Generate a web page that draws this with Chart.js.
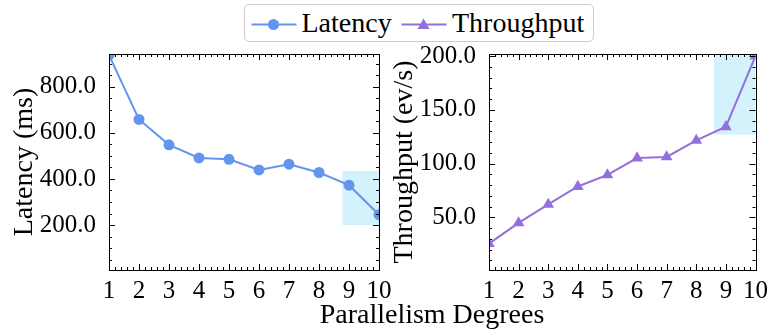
<!DOCTYPE html>
<html><head><meta charset="utf-8">
<script src="https://cdn.jsdelivr.net/npm/chart.js@4.4.1/dist/chart.umd.min.js"></script>
<style>
html,body{margin:0;padding:0;background:#fff;}
#wrap{position:relative;width:769px;height:331px;overflow:hidden;font-family:'Liberation Serif','Times New Roman',serif;color:#000;}
canvas{position:absolute;left:0;top:0;}
#legend{position:absolute;left:244px;top:4px;width:350px;height:38px;border:1.5px solid #cccccc;border-radius:5px;box-sizing:border-box;background:#fff;}
#legend span{position:absolute;top:4px;font-size:28px;line-height:28px;white-space:nowrap;}
#xtitle{position:absolute;left:232px;width:400px;top:300px;text-align:center;font-size:28px;line-height:28px;white-space:nowrap;}
</style></head>
<body><div id="wrap">
<canvas id="c1" width="769" height="331"></canvas>
<canvas id="c2" width="769" height="331"></canvas>
<div id="legend">
<svg style="position:absolute;left:0;top:0" width="347" height="35">
<line x1="6.5" y1="19.5" x2="51.5" y2="19.5" stroke="#6495ED" stroke-width="2"/>
<circle cx="28.5" cy="19.5" r="5.5" fill="#6495ED"/>
<line x1="156.5" y1="19.5" x2="201.5" y2="19.5" stroke="#9370DB" stroke-width="2"/>
<polygon points="178.5,13.5 172.5,24 184.5,24" fill="#9370DB"/>
</svg>
<span style="left:56.5px">Latency</span>
<span style="left:207px">Throughput</span>
</div>
<div id="xtitle">Parallelism Degrees</div>
</div>
<script>
// ---- data ----
const degrees = [1, 2, 3, 4, 5, 6, 7, 8, 9, 10];
const latency = [937, 658, 548, 491, 485, 439, 464, 428, 373, 245];
const throughput = [25.6, 44.8, 62, 78.7, 89.5, 105.2, 106.2, 121.6, 134.3, 200];
const latencyTicks = [200, 400, 600, 800];
const throughputTicks = [50, 100, 150, 200];
const latencyRange = [5, 942];
const throughputRange = [1, 202];
// highlighted regions: [xFrom, xTo, yFrom, yTo]
const latencyHighlight = [8.78, 10, 200, 435];
const throughputHighlight = [8.6, 10, 127, 202];

const FONT = "'Liberation Serif', 'Times New Roman', serif";
Chart.defaults.color = '#000';
Chart.defaults.font.family = FONT;

const highlightPlugin = {
  id: 'highlight',
  beforeDatasetsDraw(chart, args, opts) {
    const {ctx, chartArea: a, scales: {x, y}} = chart;
    const b = opts.box;
    ctx.save();
    ctx.beginPath(); ctx.rect(a.left, a.top, a.right - a.left, a.bottom - a.top); ctx.clip();
    const x0 = x.getPixelForValue(b[0]), x1 = x.getPixelForValue(b[1]);
    const y0 = y.getPixelForValue(b[2]), y1 = y.getPixelForValue(b[3]);
    ctx.fillStyle = opts.color;
    ctx.fillRect(Math.min(x0, x1), Math.min(y0, y1), Math.abs(x1 - x0), Math.abs(y1 - y0));
    ctx.restore();
  }
};

const frameTicksPlugin = {
  id: 'frameTicks',
  afterDatasetsDraw(chart, args, opts) {
    const {ctx, chartArea: a, scales: {x, y}} = chart;
    ctx.save();
    ctx.strokeStyle = '#000';
    ctx.lineWidth = 1;
    const near = (v, s) => Math.abs(v / s - Math.round(v / s)) < 1e-6;
    // x ticks
    const nx = Math.round((x.max - x.min) / opts.xMinor);
    for (let i = 0; i <= nx; i++) {
      const v = x.min + i * opts.xMinor;
      const len = near(v, opts.xMajor) ? 6 : 3;
      const px = Math.round(x.getPixelForValue(v)) + 0.5;
      ctx.beginPath();
      ctx.moveTo(px, a.bottom); ctx.lineTo(px, a.bottom - len);
      ctx.moveTo(px, a.top); ctx.lineTo(px, a.top + len);
      ctx.stroke();
    }
    // y ticks
    const start = Math.ceil(y.min / opts.yMinor), end = Math.floor(y.max / opts.yMinor);
    for (let k = start; k <= end; k++) {
      const v = k * opts.yMinor;
      const len = near(v, opts.yMajor) ? 6 : 3;
      const py = Math.round(y.getPixelForValue(v)) + 0.5;
      ctx.beginPath();
      ctx.moveTo(a.left, py); ctx.lineTo(a.left + len, py);
      ctx.moveTo(a.right, py); ctx.lineTo(a.right - len, py);
      ctx.stroke();
    }
    ctx.strokeRect(Math.round(a.left) + 0.5, Math.round(a.top) + 0.5,
                   Math.round(a.right - a.left), Math.round(a.bottom - a.top));
    ctx.restore();
  }
};

function makeChart(id, cfg) {
  return new Chart(document.getElementById(id), {
    type: 'line',
    data: {
      labels: degrees,
      datasets: [{
        label: cfg.label,
        data: degrees.map((d, i) => ({x: d, y: cfg.values[i]})),
        borderColor: cfg.color,
        backgroundColor: cfg.color,
        borderWidth: 2,
        pointStyle: cfg.pointStyle,
        pointRadius: cfg.pointRadius,
        pointBorderWidth: 0,
        tension: 0,
        clip: 0
      }]
    },
    options: {
      responsive: false,
      animation: false,
      devicePixelRatio: 1,
      layout: {padding: cfg.padding},
      plugins: {
        legend: {display: false},
        tooltip: {enabled: false},
        highlight: {box: cfg.highlight, color: 'rgb(212,242,252)'},
        frameTicks: {xMinor: 0.2, xMajor: 1, yMinor: cfg.yMinor, yMajor: cfg.yMajor}
      },
      scales: {
        x: {
          type: 'linear', min: 1, max: 10,
          grid: {display: false}, border: {display: false},
          ticks: {stepSize: 1, autoSkip: false, maxRotation: 0, padding: 1,
                  font: {size: 25, lineHeight: 1, family: FONT},
                  callback: v => String(v)},
          afterFit: s => { s.height = 61; }
        },
        y: {
          min: cfg.range[0], max: cfg.range[1],
          grid: {display: false}, border: {display: false},
          afterBuildTicks: s => { s.ticks = cfg.ticks.map(v => ({value: v})); },
          ticks: {padding: 5, font: {size: 25, lineHeight: 1, family: FONT},
                  callback: v => Number(v).toFixed(1)},
          title: {display: true, text: cfg.title, padding: {top: cfg.titlePad, bottom: 0},
                  font: {size: 28, lineHeight: 1, family: FONT}},
          afterFit: s => { s.width = cfg.yWidth; }
        }
      }
    },
    plugins: [highlightPlugin, frameTicksPlugin]
  });
}

makeChart('c1', {
  label: 'Latency', values: latency, color: '#6495ED', pointStyle: 'circle', pointRadius: 5.5,
  padding: {left: 0, right: 390, top: 54, bottom: 0}, yWidth: 109, titlePad: 11,
  range: latencyRange, ticks: latencyTicks, yMinor: 50, yMajor: 200,
  title: 'Latency (ms)', highlight: latencyHighlight
});
makeChart('c2', {
  label: 'Throughput', values: throughput, color: '#9370DB', pointStyle: 'triangle', pointRadius: 6.75,
  padding: {left: 390, right: 10, top: 54, bottom: 0}, yWidth: 99, titlePad: 1,
  range: throughputRange, ticks: throughputTicks, yMinor: 10, yMajor: 50,
  title: 'Throughput (ev/s)', highlight: throughputHighlight
});
</script>
</body></html>
